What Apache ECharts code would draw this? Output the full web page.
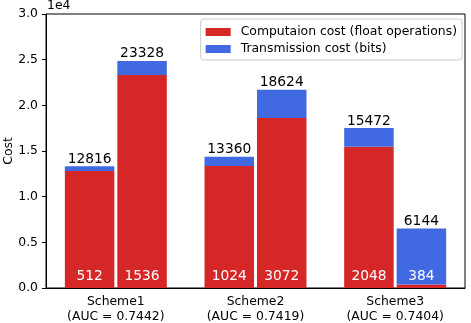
<!DOCTYPE html>
<html>
    <head>
        <meta charset="utf-8">
        <script src="https://cdn.jsdelivr.net/npm/echarts@6/dist/echarts.min.js"></script>
    </head>
    <body style="margin:0">
        <style>
            #main0 {
                width: 471px;
                height: 323px;
            }
        </style>
        <div id="main0"></div>
        <script>
            var categories = [
                'Scheme1\n(AUC = 0.7442)',
                'Scheme2\n(AUC = 0.7419)',
                'Scheme3\n(AUC = 0.7404)'
            ];
            // left and right bar of each scheme
            var compLeft = [12816, 13360, 15472];
            var compRight = [23328, 18624, 384];
            var transLeft = [512, 1024, 2048];
            var transRight = [1536, 3072, 6144];
            // texts written on the bars
            var topLeft = ['12816', '13360', '15472'];
            var topRight = ['23328', '18624', '6144'];
            var bottomLeft = ['512', '1024', '2048'];
            var bottomRight = ['1536', '3072', '384'];
            var yTicks = [0, 5000, 10000, 15000, 20000, 25000, 30000];

            var compName = 'Computaion cost (float operations)';
            var transName = 'Transmission cost (bits)';
            var red = '#d62728';
            var blue = '#4169e1';
            var font = 'DejaVu Sans';
            var small = 12.4;
            var big = 13.8;

            function topLabel(texts) {
                return {
                    show: true,
                    position: 'top',
                    distance: 0,
                    color: '#000',
                    fontSize: big,
                    fontFamily: font,
                    formatter: function (p) { return texts[p.dataIndex]; }
                };
            }
            function bottomLabel(texts) {
                return {
                    show: true,
                    position: 'insideBottom',
                    distance: 5,
                    color: '#fff',
                    fontSize: big,
                    fontFamily: font,
                    formatter: function (p) { return texts[p.dataIndex]; }
                };
            }

            var chart = echarts.init(document.getElementById('main0'));
            chart.setOption({
                animation: false,
                backgroundColor: '#fff',
                textStyle: { fontFamily: font },
                grid: {
                    left: 46, right: 6, top: 14, bottom: 35,
                    outerBoundsMode: 'none',
                    show: true, borderColor: '#000', borderWidth: 1
                },
                graphic: [{
                    type: 'text',
                    left: 47, top: 0,
                    style: { text: '1e4', fontSize: small, fontFamily: font, fill: '#000' }
                }],
                legend: {
                    orient: 'vertical',
                    right: 9, top: 19,
                    data: [compName, transName],
                    itemWidth: 25, itemHeight: 8, itemGap: 5,
                    icon: 'rect',
                    borderColor: '#ccc', borderWidth: 1, borderRadius: 3,
                    padding: [7, 5, 5, 5],
                    textStyle: { fontSize: small, fontFamily: font, color: '#000', padding: [0, 0, 0, 5] }
                },
                xAxis: {
                    type: 'category',
                    data: categories,
                    axisLine: { lineStyle: { color: '#000' } },
                    axisTick: { alignWithLabel: true, length: 4, lineStyle: { color: '#000' } },
                    axisLabel: { color: '#000', fontSize: small, lineHeight: 14.5, margin: 7 }
                },
                yAxis: {
                    type: 'value',
                    min: yTicks[0], max: yTicks[yTicks.length - 1], interval: 5000,
                    name: 'Cost',
                    nameLocation: 'middle',
                    nameGap: 31,
                    nameMoveOverlap: false,
                    nameTextStyle: { color: '#000', fontSize: small },
                    axisLine: { show: true, lineStyle: { color: '#000' } },
                    axisTick: { show: true, length: 4, lineStyle: { color: '#000' } },
                    splitLine: { show: false },
                    axisLabel: {
                        color: '#000', fontSize: small, margin: 8,
                        formatter: function (v) { return (v / 1e4).toFixed(1); }
                    }
                },
                series: [
                    { type: 'bar', name: compName, stack: 'left', data: compLeft,
                      itemStyle: { color: red }, barWidth: 49.5, barGap: '6%',
                      label: bottomLabel(bottomLeft) },
                    { type: 'bar', name: transName, stack: 'left', data: transLeft,
                      itemStyle: { color: blue }, barWidth: 49.5, barGap: '6%',
                      label: topLabel(topLeft) },
                    { type: 'bar', name: compName, stack: 'right', data: compRight,
                      itemStyle: { color: red }, barWidth: 49.5, barGap: '6%',
                      label: bottomLabel(bottomRight) },
                    { type: 'bar', name: transName, stack: 'right', data: transRight,
                      itemStyle: { color: blue }, barWidth: 49.5, barGap: '6%',
                      label: topLabel(topRight) }
                ]
            });
        </script>
    </body>
</html>
